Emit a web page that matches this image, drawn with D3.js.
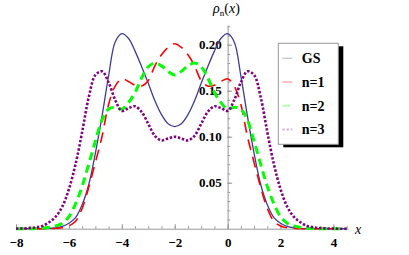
<!DOCTYPE html>
<html>
<head>
<meta charset="utf-8">
<script src="https://cdn.jsdelivr.net/npm/d3@7"></script>
<style>
  body { margin: 0; background: #fff; }
  svg { display: block; }
  .axis path, .axis line { stroke: #999; }
</style>
</head>
<body>
<svg id="chart" width="409" height="255"></svg>
<script>
// x grid shared by all curves
const xs = [-8, -7.75, -7.5, -7.25, -7, -6.75, -6.5, -6.25, -6, -5.75, -5.5, -5.25, -5, -4.75, -4.5, -4.25,
  -4, -3.75, -3.5, -3.25, -3, -2.75, -2.5, -2.25, -2, -1.75, -1.5, -1.25, -1, -0.75, -0.5, -0.25,
  0, 0.25, 0.5, 0.75, 1, 1.25, 1.5, 1.75, 2, 2.25, 2.5, 2.75, 3, 3.25, 3.5, 3.75, 4, 4.25, 4.5];

// densities
const gs = [0, 0, 0, 0, 0.0001, 0.0004, 0.001, 0.0025, 0.006, 0.012, 0.026, 0.048, 0.082, 0.122, 0.166, 0.203,
  0.212, 0.207, 0.193, 0.176, 0.158, 0.139, 0.124, 0.114, 0.111, 0.114, 0.124, 0.139, 0.158, 0.176, 0.193, 0.207,
  0.212, 0.203, 0.166, 0.122, 0.082, 0.048, 0.026, 0.012, 0.006, 0.0025, 0.001, 0.0004, 0.0001, 0, 0, 0, 0, 0, 0];
const n1 = [0, 0, 0, 0, 0, 0, 0.0005, 0.001, 0.003, 0.008, 0.022, 0.045, 0.072, 0.100, 0.135, 0.155,
  0.163, 0.160, 0.156, 0.155, 0.161, 0.177, 0.189, 0.197, 0.201, 0.197, 0.189, 0.177, 0.161, 0.155, 0.156, 0.160,
  0.163, 0.155, 0.135, 0.100, 0.072, 0.045, 0.022, 0.008, 0.003, 0.001, 0.0005, 0, 0, 0, 0, 0, 0, 0, 0];
const n2 = [0, 0, 0, 0.0002, 0.0005, 0.0015, 0.003, 0.006, 0.013, 0.027, 0.046, 0.070, 0.095, 0.118, 0.130, 0.132,
  0.130, 0.137, 0.148, 0.164, 0.176, 0.180, 0.177, 0.171, 0.167, 0.171, 0.177, 0.180, 0.176, 0.164, 0.148, 0.137,
  0.130, 0.132, 0.130, 0.118, 0.095, 0.070, 0.046, 0.027, 0.013, 0.006, 0.003, 0.0015, 0.0005, 0.0002, 0, 0, 0, 0, 0];
const n3 = [0.0001, 0.0003, 0.0007, 0.0015, 0.003, 0.007, 0.013, 0.024, 0.043, 0.070, 0.105, 0.143, 0.167, 0.171, 0.159, 0.140,
  0.128, 0.131, 0.133, 0.127, 0.114, 0.101, 0.096, 0.098, 0.100, 0.098, 0.096, 0.101, 0.114, 0.127, 0.133, 0.131,
  0.128, 0.140, 0.159, 0.171, 0.167, 0.143, 0.105, 0.070, 0.043, 0.024, 0.013, 0.007, 0.003, 0.0015, 0.0007, 0.0003, 0.0001, 0, 0];

const seriesNames = ["GS", "n=1", "n=2", "n=3"];
const xTicks = [-8, -6, -4, -2, 0, 2, 4];
const yTicks = [0.05, 0.10, 0.15, 0.20];

const serif = "Liberation Serif, Times New Roman, serif";
const svg = d3.select("#chart");

const x = d3.scaleLinear().domain([-8, 4.55]).range([16, 348]);
const y = d3.scaleLinear().domain([0, 0.2214]).range([228.7, 25]);

// minor ticks
svg.append("g").attr("class", "axis")
  .attr("transform", "translate(0," + y(0) + ")")
  .call(d3.axisBottom(x).tickValues(d3.range(-8, 4.6, 0.5)).tickSize(-2.5).tickFormat(""))
  .select(".domain").remove();
svg.append("g").attr("class", "axis")
  .attr("transform", "translate(" + x(0) + ",0)")
  .call(d3.axisLeft(y).tickValues(d3.range(0.01, 0.221, 0.01)).tickSize(-2.5).tickFormat(""))
  .select(".domain").remove();

// main axes
svg.append("g").attr("class", "axis")
  .attr("transform", "translate(0," + y(0) + ")")
  .call(d3.axisBottom(x).tickValues(xTicks).tickSize(-4.5).tickSizeOuter(0).tickPadding(9))
  .attr("font-family", serif).attr("font-size", 13).attr("font-weight", "bold");
svg.append("g").attr("class", "axis")
  .attr("transform", "translate(" + x(0) + ",0)")
  .call(d3.axisLeft(y).tickValues(yTicks).tickSize(-4.5).tickSizeOuter(0).tickPadding(6).tickFormat(d3.format(".2f")))
  .attr("font-family", serif).attr("font-size", 13).attr("font-weight", "bold");

// curves
const series = [
  { name: seriesNames[0], values: gs, color: "#3d3d99", width: 1.3, dash: null },
  { name: seriesNames[1], values: n1, color: "#ff0000", width: 1.6, dash: "11,7" },
  { name: seriesNames[2], values: n2, color: "#00ff00", width: 3, dash: "8,5" },
  { name: seriesNames[3], values: n3, color: "#800080", width: 2.6, dash: "2.4,1.8" }
];

const line = d3.line()
  .x((d, i) => x(xs[i]))
  .y(d => y(d))
  .curve(d3.curveCatmullRom);

svg.selectAll(".curve")
  .data(series)
  .enter()
  .append("path")
  .attr("class", "curve")
  .attr("d", d => line(d.values))
  .attr("fill", "none")
  .attr("stroke", d => d.color)
  .attr("stroke-width", d => d.width)
  .attr("stroke-dasharray", d => d.dash);

// axis labels
svg.append("text")
  .attr("x", 355).attr("y", 234)
  .attr("font-family", serif).attr("font-style", "italic").attr("font-size", 14)
  .text("x");

const ylab = svg.append("text")
  .attr("x", 213).attr("y", 12.5)
  .attr("font-family", serif).attr("font-size", 14);
ylab.append("tspan").attr("font-style", "italic").text("ρ");
ylab.append("tspan").attr("dy", 3).attr("font-size", 9).text("n");
ylab.append("tspan").attr("dy", -3).text("(");
ylab.append("tspan").attr("font-style", "italic").text("x");
ylab.append("tspan").text(")");

// legend
const lg = svg.append("g").attr("transform", "translate(278.3,43.3)");
lg.append("rect").attr("x", 5).attr("y", 3).attr("width", 60).attr("height", 101).attr("fill", "#000");
lg.append("rect").attr("x", 0).attr("y", 0).attr("width", 60).attr("height", 101)
  .attr("fill", "#fff").attr("stroke", "#999");

const row = lg.selectAll(".row")
  .data(series)
  .enter()
  .append("g")
  .attr("transform", (d, i) => "translate(0," + (15 + i * 23.7) + ")");
row.append("line")
  .attr("x1", 4).attr("x2", 14)
  .attr("stroke", d => d.color)
  .attr("stroke-opacity", 0.3)
  .attr("stroke-width", d => Math.min(d.width, 2))
  .attr("stroke-dasharray", d => d.dash);
row.append("text")
  .attr("x", 23.5).attr("y", 5)
  .attr("font-family", serif).attr("font-weight", "bold").attr("font-size", 14)
  .text(d => d.name);
</script>
</body>
</html>
